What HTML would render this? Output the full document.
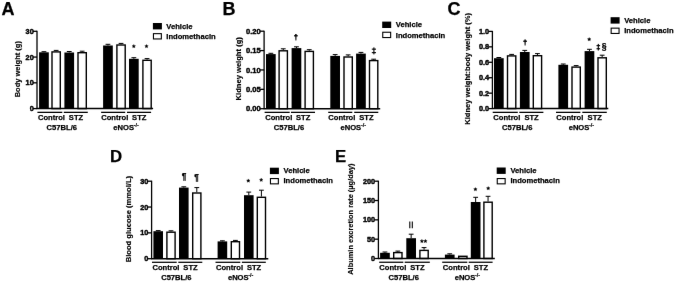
<!DOCTYPE html>
<html><head><meta charset="utf-8"><style>
html,body{margin:0;padding:0;background:#fff;width:675px;height:282px;overflow:hidden}
svg{display:block;font-family:"Liberation Sans", sans-serif;will-change:transform}
text{font-weight:bold;fill:#000;stroke:#000;stroke-width:0.25px;stroke-linejoin:round}
</style></head><body>
<svg width="675" height="282" viewBox="0 0 675 282">
<defs><filter id="bl" color-interpolation-filters="sRGB" x="0" y="0" width="675" height="282" filterUnits="userSpaceOnUse"><feConvolveMatrix order="3" kernelMatrix="0.0016 0.0371 0.0016 0.0371 0.8450 0.0371 0.0016 0.0371 0.0016" edgeMode="duplicate"/></filter></defs><g filter="url(#bl)">
<rect width="675" height="282" fill="#fff"/>
<text x="1.6" y="14.8" font-size="18">A</text>
<line x1="37" y1="30.8" x2="37" y2="108.6" stroke="#000" stroke-width="1.3"/>
<line x1="33" y1="108.6" x2="37" y2="108.6" stroke="#000" stroke-width="1.3"/>
<text x="33.7" y="111.2" font-size="7.74" textLength="4.06" lengthAdjust="spacingAndGlyphs" text-anchor="end" style="stroke-width:0.45px">0</text>
<line x1="33" y1="82.83" x2="37" y2="82.83" stroke="#000" stroke-width="1.3"/>
<text x="33.7" y="85.43" font-size="7.74" textLength="8.12" lengthAdjust="spacingAndGlyphs" text-anchor="end" style="stroke-width:0.45px">10</text>
<line x1="33" y1="57.07" x2="37" y2="57.07" stroke="#000" stroke-width="1.3"/>
<text x="33.7" y="59.67" font-size="7.74" textLength="8.12" lengthAdjust="spacingAndGlyphs" text-anchor="end" style="stroke-width:0.45px">20</text>
<line x1="33" y1="31.3" x2="37" y2="31.3" stroke="#000" stroke-width="1.3"/>
<text x="33.7" y="33.9" font-size="7.74" textLength="8.12" lengthAdjust="spacingAndGlyphs" text-anchor="end" style="stroke-width:0.45px">30</text>
<line x1="43.95" y1="51.7" x2="43.95" y2="52.3" stroke="#000" stroke-width="1"/>
<line x1="41.55" y1="51.7" x2="46.35" y2="51.7" stroke="#000" stroke-width="1"/>
<rect x="39.1" y="52.3" width="9.7" height="56.3" fill="#000"/>
<line x1="56.15" y1="50.4" x2="56.15" y2="51.2" stroke="#000" stroke-width="1"/>
<line x1="53.75" y1="50.4" x2="58.55" y2="50.4" stroke="#000" stroke-width="1"/>
<rect x="52" y="51.9" width="8.3" height="56.7" fill="#fff" stroke="#000" stroke-width="1.4"/>
<line x1="69.25" y1="51.5" x2="69.25" y2="52.5" stroke="#000" stroke-width="1"/>
<line x1="66.85" y1="51.5" x2="71.65" y2="51.5" stroke="#000" stroke-width="1"/>
<rect x="64.4" y="52.5" width="9.7" height="56.1" fill="#000"/>
<line x1="82.15" y1="51.2" x2="82.15" y2="52" stroke="#000" stroke-width="1"/>
<line x1="79.75" y1="51.2" x2="84.55" y2="51.2" stroke="#000" stroke-width="1"/>
<rect x="78" y="52.7" width="8.3" height="55.9" fill="#fff" stroke="#000" stroke-width="1.4"/>
<line x1="107.95" y1="44.3" x2="107.95" y2="45.5" stroke="#000" stroke-width="1"/>
<line x1="105.55" y1="44.3" x2="110.35" y2="44.3" stroke="#000" stroke-width="1"/>
<rect x="103.1" y="45.5" width="9.7" height="63.1" fill="#000"/>
<line x1="121.05" y1="43.4" x2="121.05" y2="44.3" stroke="#000" stroke-width="1"/>
<line x1="118.65" y1="43.4" x2="123.45" y2="43.4" stroke="#000" stroke-width="1"/>
<rect x="116.9" y="45" width="8.3" height="63.6" fill="#fff" stroke="#000" stroke-width="1.4"/>
<line x1="133.85" y1="57.7" x2="133.85" y2="58.8" stroke="#000" stroke-width="1"/>
<line x1="131.45" y1="57.7" x2="136.25" y2="57.7" stroke="#000" stroke-width="1"/>
<rect x="129" y="58.8" width="9.7" height="49.8" fill="#000"/>
<line x1="147.05" y1="58.6" x2="147.05" y2="59.6" stroke="#000" stroke-width="1"/>
<line x1="144.65" y1="58.6" x2="149.45" y2="58.6" stroke="#000" stroke-width="1"/>
<rect x="142.9" y="60.3" width="8.3" height="48.3" fill="#fff" stroke="#000" stroke-width="1.4"/>
<line x1="36.5" y1="108.6" x2="153.1" y2="108.6" stroke="#000" stroke-width="1.5"/>
<line x1="37.4" y1="112.35" x2="62.3" y2="112.35" stroke="#000" stroke-width="1.25"/>
<text x="51.45" y="119.6" font-size="7.9" textLength="27.02" lengthAdjust="spacingAndGlyphs" text-anchor="middle">Control</text>
<line x1="63.8" y1="112.35" x2="87.8" y2="112.35" stroke="#000" stroke-width="1.25"/>
<text x="76" y="119.6" font-size="7.9" textLength="14.35" lengthAdjust="spacingAndGlyphs" text-anchor="middle">STZ</text>
<line x1="101.1" y1="112.35" x2="125.2" y2="112.35" stroke="#000" stroke-width="1.25"/>
<text x="114.75" y="119.6" font-size="7.9" textLength="27.02" lengthAdjust="spacingAndGlyphs" text-anchor="middle">Control</text>
<line x1="127" y1="112.35" x2="151.1" y2="112.35" stroke="#000" stroke-width="1.25"/>
<text x="139.25" y="119.6" font-size="7.9" textLength="14.35" lengthAdjust="spacingAndGlyphs" text-anchor="middle">STZ</text>
<text x="61.8" y="129.6" font-size="7.9" textLength="30.41" lengthAdjust="spacingAndGlyphs" text-anchor="middle">C57BL/6</text>
<text x="126.1" y="129.6" font-size="7.6" text-anchor="middle">eNOS<tspan font-size="5.4" dy="-2.7" dx="-0.3" style="stroke-width:0.15px">-/-</tspan></text>
<rect x="152.9" y="23" width="9" height="6.4" fill="#000"/>
<rect x="153.45" y="33.65" width="7.9" height="5.3" fill="#fff" stroke="#000" stroke-width="1.1"/>
<text x="166.3" y="29" font-size="7.98" textLength="26.2" lengthAdjust="spacingAndGlyphs">Vehicle</text>
<text x="166.3" y="39.2" font-size="7.98" textLength="49.4" lengthAdjust="spacingAndGlyphs">Indomethacin</text>
<text transform="translate(20.4,69.2) rotate(-90)" font-size="7.5" text-anchor="middle" style="stroke-width:0.15px">Body weight (g)</text>
<polygon points="133.8,44.4 134.33,45.52 135.56,45.68 134.66,46.53 134.89,47.75 133.8,47.15 132.71,47.75 132.94,46.53 132.04,45.68 133.27,45.52" fill="#000" stroke="#000" stroke-width="0.3" stroke-linejoin="round"/>
<polygon points="146.5,44.4 147.03,45.52 148.26,45.68 147.36,46.53 147.59,47.75 146.5,47.15 145.41,47.75 145.64,46.53 144.74,45.68 145.97,45.52" fill="#000" stroke="#000" stroke-width="0.3" stroke-linejoin="round"/>
<text x="222.6" y="14.8" font-size="18">B</text>
<line x1="264.1" y1="30.7" x2="264.1" y2="108.7" stroke="#000" stroke-width="1.3"/>
<line x1="260.1" y1="108.7" x2="264.1" y2="108.7" stroke="#000" stroke-width="1.3"/>
<text x="260.8" y="111.3" font-size="8.06" textLength="14.79" lengthAdjust="spacingAndGlyphs" text-anchor="end" style="stroke-width:0.45px">0.00</text>
<line x1="260.1" y1="89.33" x2="264.1" y2="89.33" stroke="#000" stroke-width="1.3"/>
<text x="260.8" y="91.92" font-size="8.06" textLength="14.79" lengthAdjust="spacingAndGlyphs" text-anchor="end" style="stroke-width:0.45px">0.05</text>
<line x1="260.1" y1="69.95" x2="264.1" y2="69.95" stroke="#000" stroke-width="1.3"/>
<text x="260.8" y="72.55" font-size="8.06" textLength="14.79" lengthAdjust="spacingAndGlyphs" text-anchor="end" style="stroke-width:0.45px">0.10</text>
<line x1="260.1" y1="50.58" x2="264.1" y2="50.58" stroke="#000" stroke-width="1.3"/>
<text x="260.8" y="53.18" font-size="8.06" textLength="14.79" lengthAdjust="spacingAndGlyphs" text-anchor="end" style="stroke-width:0.45px">0.15</text>
<line x1="260.1" y1="31.2" x2="264.1" y2="31.2" stroke="#000" stroke-width="1.3"/>
<text x="260.8" y="33.8" font-size="8.06" textLength="14.79" lengthAdjust="spacingAndGlyphs" text-anchor="end" style="stroke-width:0.45px">0.20</text>
<line x1="270.85" y1="53.3" x2="270.85" y2="54.1" stroke="#000" stroke-width="1"/>
<line x1="268.45" y1="53.3" x2="273.25" y2="53.3" stroke="#000" stroke-width="1"/>
<rect x="266" y="54.1" width="9.7" height="54.6" fill="#000"/>
<line x1="283.25" y1="48.8" x2="283.25" y2="50.1" stroke="#000" stroke-width="1"/>
<line x1="280.85" y1="48.8" x2="285.65" y2="48.8" stroke="#000" stroke-width="1"/>
<rect x="279.1" y="50.8" width="8.3" height="57.9" fill="#fff" stroke="#000" stroke-width="1.4"/>
<line x1="296.45" y1="46.8" x2="296.45" y2="48.1" stroke="#000" stroke-width="1"/>
<line x1="294.05" y1="46.8" x2="298.85" y2="46.8" stroke="#000" stroke-width="1"/>
<rect x="291.6" y="48.1" width="9.7" height="60.6" fill="#000"/>
<line x1="309.25" y1="49.7" x2="309.25" y2="50.7" stroke="#000" stroke-width="1"/>
<line x1="306.85" y1="49.7" x2="311.65" y2="49.7" stroke="#000" stroke-width="1"/>
<rect x="305.1" y="51.4" width="8.3" height="57.3" fill="#fff" stroke="#000" stroke-width="1.4"/>
<line x1="335.15" y1="54.6" x2="335.15" y2="55.9" stroke="#000" stroke-width="1"/>
<line x1="332.75" y1="54.6" x2="337.55" y2="54.6" stroke="#000" stroke-width="1"/>
<rect x="330.3" y="55.9" width="9.7" height="52.8" fill="#000"/>
<line x1="348.15" y1="54.9" x2="348.15" y2="56.3" stroke="#000" stroke-width="1"/>
<line x1="345.75" y1="54.9" x2="350.55" y2="54.9" stroke="#000" stroke-width="1"/>
<rect x="344" y="57" width="8.3" height="51.7" fill="#fff" stroke="#000" stroke-width="1.4"/>
<line x1="360.95" y1="52.4" x2="360.95" y2="53.6" stroke="#000" stroke-width="1"/>
<line x1="358.55" y1="52.4" x2="363.35" y2="52.4" stroke="#000" stroke-width="1"/>
<rect x="356.1" y="53.6" width="9.7" height="55.1" fill="#000"/>
<line x1="373.65" y1="59.2" x2="373.65" y2="59.9" stroke="#000" stroke-width="1"/>
<line x1="371.25" y1="59.2" x2="376.05" y2="59.2" stroke="#000" stroke-width="1"/>
<rect x="369.5" y="60.6" width="8.3" height="48.1" fill="#fff" stroke="#000" stroke-width="1.4"/>
<line x1="263.6" y1="108.7" x2="380.2" y2="108.7" stroke="#000" stroke-width="1.5"/>
<line x1="264.6" y1="112.35" x2="289.7" y2="112.35" stroke="#000" stroke-width="1.25"/>
<text x="278.75" y="119.8" font-size="7.9" textLength="27.02" lengthAdjust="spacingAndGlyphs" text-anchor="middle">Control</text>
<line x1="291" y1="112.35" x2="315" y2="112.35" stroke="#000" stroke-width="1.25"/>
<text x="303.2" y="119.8" font-size="7.9" textLength="14.35" lengthAdjust="spacingAndGlyphs" text-anchor="middle">STZ</text>
<line x1="328.2" y1="112.35" x2="352.3" y2="112.35" stroke="#000" stroke-width="1.25"/>
<text x="341.85" y="119.8" font-size="7.9" textLength="27.02" lengthAdjust="spacingAndGlyphs" text-anchor="middle">Control</text>
<line x1="354.2" y1="112.35" x2="378.3" y2="112.35" stroke="#000" stroke-width="1.25"/>
<text x="366.45" y="119.8" font-size="7.9" textLength="14.35" lengthAdjust="spacingAndGlyphs" text-anchor="middle">STZ</text>
<text x="289" y="129.6" font-size="7.9" textLength="30.41" lengthAdjust="spacingAndGlyphs" text-anchor="middle">C57BL/6</text>
<text x="353.25" y="129.6" font-size="7.6" text-anchor="middle">eNOS<tspan font-size="5.4" dy="-2.7" dx="-0.3" style="stroke-width:0.15px">-/-</tspan></text>
<rect x="382.2" y="21.6" width="9" height="6.4" fill="#000"/>
<rect x="382.75" y="32.25" width="7.9" height="5.3" fill="#fff" stroke="#000" stroke-width="1.1"/>
<text x="395.8" y="27.2" font-size="7.98" textLength="26.2" lengthAdjust="spacingAndGlyphs">Vehicle</text>
<text x="395.8" y="38" font-size="7.98" textLength="49.4" lengthAdjust="spacingAndGlyphs">Indomethacin</text>
<text transform="translate(240.8,68.8) rotate(-90)" font-size="7.6" text-anchor="middle" style="stroke-width:0.15px">Kidney weight (g)</text>
<polygon points="295.15,34.1 296.65,34.1 296.35,40.4 295.45,40.4" fill="#000"/>
<rect x="294" y="35.2" width="3.8" height="1.2" fill="#000"/>
<rect x="373.35" y="47.4" width="1.1" height="7" fill="#000"/>
<rect x="371.8" y="48.6" width="4.2" height="1.1" fill="#000"/>
<rect x="371.8" y="52.1" width="4.2" height="1.1" fill="#000"/>
<text x="447.6" y="14.8" font-size="18">C</text>
<line x1="492.4" y1="30.9" x2="492.4" y2="108.6" stroke="#000" stroke-width="1.3"/>
<line x1="488.4" y1="108.6" x2="492.4" y2="108.6" stroke="#000" stroke-width="1.3"/>
<text x="489.1" y="111.2" font-size="7.74" textLength="10.15" lengthAdjust="spacingAndGlyphs" text-anchor="end" style="stroke-width:0.45px">0.0</text>
<line x1="488.4" y1="93.16" x2="492.4" y2="93.16" stroke="#000" stroke-width="1.3"/>
<text x="489.1" y="95.76" font-size="7.74" textLength="10.15" lengthAdjust="spacingAndGlyphs" text-anchor="end" style="stroke-width:0.45px">0.2</text>
<line x1="488.4" y1="77.72" x2="492.4" y2="77.72" stroke="#000" stroke-width="1.3"/>
<text x="489.1" y="80.32" font-size="7.74" textLength="10.15" lengthAdjust="spacingAndGlyphs" text-anchor="end" style="stroke-width:0.45px">0.4</text>
<line x1="488.4" y1="62.28" x2="492.4" y2="62.28" stroke="#000" stroke-width="1.3"/>
<text x="489.1" y="64.88" font-size="7.74" textLength="10.15" lengthAdjust="spacingAndGlyphs" text-anchor="end" style="stroke-width:0.45px">0.6</text>
<line x1="488.4" y1="46.84" x2="492.4" y2="46.84" stroke="#000" stroke-width="1.3"/>
<text x="489.1" y="49.44" font-size="7.74" textLength="10.15" lengthAdjust="spacingAndGlyphs" text-anchor="end" style="stroke-width:0.45px">0.8</text>
<line x1="488.4" y1="31.4" x2="492.4" y2="31.4" stroke="#000" stroke-width="1.3"/>
<text x="489.1" y="34" font-size="7.74" textLength="10.15" lengthAdjust="spacingAndGlyphs" text-anchor="end" style="stroke-width:0.45px">1.0</text>
<line x1="498.85" y1="57.5" x2="498.85" y2="58.2" stroke="#000" stroke-width="1"/>
<line x1="496.45" y1="57.5" x2="501.25" y2="57.5" stroke="#000" stroke-width="1"/>
<rect x="494" y="58.2" width="9.7" height="50.4" fill="#000"/>
<line x1="511.65" y1="54.4" x2="511.65" y2="55.2" stroke="#000" stroke-width="1"/>
<line x1="509.25" y1="54.4" x2="514.05" y2="54.4" stroke="#000" stroke-width="1"/>
<rect x="507.5" y="55.9" width="8.3" height="52.7" fill="#fff" stroke="#000" stroke-width="1.4"/>
<line x1="524.75" y1="50.4" x2="524.75" y2="52" stroke="#000" stroke-width="1"/>
<line x1="522.35" y1="50.4" x2="527.15" y2="50.4" stroke="#000" stroke-width="1"/>
<rect x="519.9" y="52" width="9.7" height="56.6" fill="#000"/>
<line x1="537.45" y1="53.6" x2="537.45" y2="55" stroke="#000" stroke-width="1"/>
<line x1="535.05" y1="53.6" x2="539.85" y2="53.6" stroke="#000" stroke-width="1"/>
<rect x="533.3" y="55.7" width="8.3" height="52.9" fill="#fff" stroke="#000" stroke-width="1.4"/>
<line x1="563.25" y1="64" x2="563.25" y2="64.8" stroke="#000" stroke-width="1"/>
<line x1="560.85" y1="64" x2="565.65" y2="64" stroke="#000" stroke-width="1"/>
<rect x="558.4" y="64.8" width="9.7" height="43.8" fill="#000"/>
<line x1="576.15" y1="65.6" x2="576.15" y2="66.4" stroke="#000" stroke-width="1"/>
<line x1="573.75" y1="65.6" x2="578.55" y2="65.6" stroke="#000" stroke-width="1"/>
<rect x="572" y="67.1" width="8.3" height="41.5" fill="#fff" stroke="#000" stroke-width="1.4"/>
<line x1="589.45" y1="49.3" x2="589.45" y2="51.1" stroke="#000" stroke-width="1"/>
<line x1="587.05" y1="49.3" x2="591.85" y2="49.3" stroke="#000" stroke-width="1"/>
<rect x="584.6" y="51.1" width="9.7" height="57.5" fill="#000"/>
<line x1="602.15" y1="55.2" x2="602.15" y2="57.1" stroke="#000" stroke-width="1"/>
<line x1="599.75" y1="55.2" x2="604.55" y2="55.2" stroke="#000" stroke-width="1"/>
<rect x="598" y="57.8" width="8.3" height="50.8" fill="#fff" stroke="#000" stroke-width="1.4"/>
<line x1="491.9" y1="108.6" x2="608.3" y2="108.6" stroke="#000" stroke-width="1.5"/>
<line x1="492.7" y1="112.35" x2="517.8" y2="112.35" stroke="#000" stroke-width="1.25"/>
<text x="506.85" y="119.8" font-size="7.9" textLength="27.02" lengthAdjust="spacingAndGlyphs" text-anchor="middle">Control</text>
<line x1="519.3" y1="112.35" x2="543.4" y2="112.35" stroke="#000" stroke-width="1.25"/>
<text x="531.55" y="119.8" font-size="7.9" textLength="14.35" lengthAdjust="spacingAndGlyphs" text-anchor="middle">STZ</text>
<line x1="556" y1="112.35" x2="580.4" y2="112.35" stroke="#000" stroke-width="1.25"/>
<text x="569.8" y="119.8" font-size="7.9" textLength="27.02" lengthAdjust="spacingAndGlyphs" text-anchor="middle">Control</text>
<line x1="582.3" y1="112.35" x2="606.8" y2="112.35" stroke="#000" stroke-width="1.25"/>
<text x="594.75" y="119.8" font-size="7.9" textLength="14.35" lengthAdjust="spacingAndGlyphs" text-anchor="middle">STZ</text>
<text x="517.25" y="129.6" font-size="7.9" textLength="30.41" lengthAdjust="spacingAndGlyphs" text-anchor="middle">C57BL/6</text>
<text x="581.4" y="129.6" font-size="7.6" text-anchor="middle">eNOS<tspan font-size="5.4" dy="-2.7" dx="-0.3" style="stroke-width:0.15px">-/-</tspan></text>
<rect x="610.6" y="17.2" width="9" height="6.4" fill="#000"/>
<rect x="611.15" y="28.15" width="7.9" height="5.3" fill="#fff" stroke="#000" stroke-width="1.1"/>
<text x="624.2" y="22.9" font-size="7.98" textLength="26.2" lengthAdjust="spacingAndGlyphs">Vehicle</text>
<text x="624.2" y="33.1" font-size="7.98" textLength="49.4" lengthAdjust="spacingAndGlyphs">Indomethacin</text>
<text transform="translate(469.8,68.85) rotate(-90)" font-size="7.57" text-anchor="middle" style="stroke-width:0.15px">Kidney weight:body weight (%)</text>
<polygon points="524.35,39.5 525.85,39.5 525.55,45.4 524.65,45.4" fill="#000"/>
<rect x="523.2" y="40.6" width="3.8" height="1.2" fill="#000"/>
<polygon points="589.2,37.5 589.73,38.62 590.96,38.78 590.06,39.63 590.29,40.85 589.2,40.25 588.11,40.85 588.34,39.63 587.44,38.78 588.67,38.62" fill="#000" stroke="#000" stroke-width="0.3" stroke-linejoin="round"/>
<rect x="597.75" y="43.9" width="1.1" height="6.6" fill="#000"/>
<rect x="596.5" y="45.1" width="3.6" height="1.1" fill="#000"/>
<rect x="596.5" y="48.2" width="3.6" height="1.1" fill="#000"/>
<text x="604.2" y="49.4" font-size="8.6" text-anchor="middle">§</text>
<text x="109.9" y="162.2" font-size="16.8">D</text>
<line x1="151.6" y1="180.7" x2="151.6" y2="258.7" stroke="#000" stroke-width="1.3"/>
<line x1="147.6" y1="258.7" x2="151.6" y2="258.7" stroke="#000" stroke-width="1.3"/>
<text x="148.3" y="261.3" font-size="7.74" textLength="4.06" lengthAdjust="spacingAndGlyphs" text-anchor="end" style="stroke-width:0.45px">0</text>
<line x1="147.6" y1="232.87" x2="151.6" y2="232.87" stroke="#000" stroke-width="1.3"/>
<text x="148.3" y="235.47" font-size="7.74" textLength="8.12" lengthAdjust="spacingAndGlyphs" text-anchor="end" style="stroke-width:0.45px">10</text>
<line x1="147.6" y1="207.03" x2="151.6" y2="207.03" stroke="#000" stroke-width="1.3"/>
<text x="148.3" y="209.63" font-size="7.74" textLength="8.12" lengthAdjust="spacingAndGlyphs" text-anchor="end" style="stroke-width:0.45px">20</text>
<line x1="147.6" y1="181.2" x2="151.6" y2="181.2" stroke="#000" stroke-width="1.3"/>
<text x="148.3" y="183.8" font-size="7.74" textLength="8.12" lengthAdjust="spacingAndGlyphs" text-anchor="end" style="stroke-width:0.45px">30</text>
<line x1="158.2" y1="230.6" x2="158.2" y2="231.2" stroke="#000" stroke-width="1"/>
<line x1="155.8" y1="230.6" x2="160.6" y2="230.6" stroke="#000" stroke-width="1"/>
<rect x="153.4" y="231.2" width="9.6" height="27.5" fill="#000"/>
<line x1="171" y1="230.8" x2="171" y2="231.5" stroke="#000" stroke-width="1"/>
<line x1="168.6" y1="230.8" x2="173.4" y2="230.8" stroke="#000" stroke-width="1"/>
<rect x="166.9" y="232.2" width="8.2" height="26.5" fill="#fff" stroke="#000" stroke-width="1.4"/>
<line x1="183.8" y1="186.8" x2="183.8" y2="187.6" stroke="#000" stroke-width="1"/>
<line x1="181.4" y1="186.8" x2="186.2" y2="186.8" stroke="#000" stroke-width="1"/>
<rect x="179" y="187.6" width="9.6" height="71.1" fill="#000"/>
<line x1="196.8" y1="187.6" x2="196.8" y2="192.3" stroke="#000" stroke-width="1"/>
<line x1="194.4" y1="187.6" x2="199.2" y2="187.6" stroke="#000" stroke-width="1"/>
<rect x="192.7" y="193" width="8.2" height="65.7" fill="#fff" stroke="#000" stroke-width="1.4"/>
<line x1="222.4" y1="240.8" x2="222.4" y2="241.4" stroke="#000" stroke-width="1"/>
<line x1="220" y1="240.8" x2="224.8" y2="240.8" stroke="#000" stroke-width="1"/>
<rect x="217.6" y="241.4" width="9.6" height="17.3" fill="#000"/>
<line x1="235.4" y1="240.4" x2="235.4" y2="241" stroke="#000" stroke-width="1"/>
<line x1="233" y1="240.4" x2="237.8" y2="240.4" stroke="#000" stroke-width="1"/>
<rect x="231.3" y="241.7" width="8.2" height="17" fill="#fff" stroke="#000" stroke-width="1.4"/>
<line x1="248.8" y1="192.1" x2="248.8" y2="195.2" stroke="#000" stroke-width="1"/>
<line x1="246.4" y1="192.1" x2="251.2" y2="192.1" stroke="#000" stroke-width="1"/>
<rect x="244" y="195.2" width="9.6" height="63.5" fill="#000"/>
<line x1="261.4" y1="190.2" x2="261.4" y2="196.6" stroke="#000" stroke-width="1"/>
<line x1="259" y1="190.2" x2="263.8" y2="190.2" stroke="#000" stroke-width="1"/>
<rect x="257.3" y="197.3" width="8.2" height="61.4" fill="#fff" stroke="#000" stroke-width="1.4"/>
<line x1="151.1" y1="258.7" x2="268.3" y2="258.7" stroke="#000" stroke-width="1.5"/>
<line x1="152" y1="262.3" x2="176.7" y2="262.3" stroke="#000" stroke-width="1.25"/>
<text x="165.95" y="269.9" font-size="7.9" textLength="27.02" lengthAdjust="spacingAndGlyphs" text-anchor="middle">Control</text>
<line x1="178.3" y1="262.3" x2="202.3" y2="262.3" stroke="#000" stroke-width="1.25"/>
<text x="190.5" y="269.9" font-size="7.9" textLength="14.35" lengthAdjust="spacingAndGlyphs" text-anchor="middle">STZ</text>
<line x1="215.5" y1="262.3" x2="240.3" y2="262.3" stroke="#000" stroke-width="1.25"/>
<text x="229.5" y="269.9" font-size="7.9" textLength="27.02" lengthAdjust="spacingAndGlyphs" text-anchor="middle">Control</text>
<line x1="241.9" y1="262.3" x2="265.8" y2="262.3" stroke="#000" stroke-width="1.25"/>
<text x="254.05" y="269.9" font-size="7.9" textLength="14.35" lengthAdjust="spacingAndGlyphs" text-anchor="middle">STZ</text>
<text x="176.35" y="279.6" font-size="7.9" textLength="30.41" lengthAdjust="spacingAndGlyphs" text-anchor="middle">C57BL/6</text>
<text x="240.65" y="279.6" font-size="7.6" text-anchor="middle">eNOS<tspan font-size="5.4" dy="-2.7" dx="-0.3" style="stroke-width:0.15px">-/-</tspan></text>
<rect x="269.9" y="167.7" width="9" height="6.4" fill="#000"/>
<rect x="270.45" y="178.55" width="7.9" height="5.3" fill="#fff" stroke="#000" stroke-width="1.1"/>
<text x="283.5" y="173.4" font-size="7.98" textLength="26.2" lengthAdjust="spacingAndGlyphs">Vehicle</text>
<text x="283.5" y="183.3" font-size="7.98" textLength="49.4" lengthAdjust="spacingAndGlyphs">Indomethacin</text>
<text transform="translate(130.6,219.1) rotate(-90)" font-size="7.6" text-anchor="middle" style="stroke-width:0.15px">Blood glucose (mmol/L)</text>
<text x="184" y="179.2" font-size="8.2" text-anchor="middle">¶</text>
<text x="196.6" y="180.4" font-size="8.2" text-anchor="middle">¶</text>
<polygon points="248.3,178.9 248.83,180.02 250.06,180.18 249.16,181.03 249.39,182.25 248.3,181.65 247.21,182.25 247.44,181.03 246.54,180.18 247.77,180.02" fill="#000" stroke="#000" stroke-width="0.3" stroke-linejoin="round"/>
<polygon points="261.2,178.1 261.73,179.22 262.96,179.38 262.06,180.23 262.29,181.45 261.2,180.85 260.11,181.45 260.34,180.23 259.44,179.38 260.67,179.22" fill="#000" stroke="#000" stroke-width="0.3" stroke-linejoin="round"/>
<text x="334.9" y="162.2" font-size="16.8">E</text>
<line x1="378.4" y1="180.7" x2="378.4" y2="258.5" stroke="#000" stroke-width="1.3"/>
<line x1="374.4" y1="258.5" x2="378.4" y2="258.5" stroke="#000" stroke-width="1.3"/>
<text x="375.1" y="261.1" font-size="7.74" textLength="4.06" lengthAdjust="spacingAndGlyphs" text-anchor="end" style="stroke-width:0.45px">0</text>
<line x1="374.4" y1="239.18" x2="378.4" y2="239.18" stroke="#000" stroke-width="1.3"/>
<text x="375.1" y="241.78" font-size="7.74" textLength="8.12" lengthAdjust="spacingAndGlyphs" text-anchor="end" style="stroke-width:0.45px">50</text>
<line x1="374.4" y1="219.85" x2="378.4" y2="219.85" stroke="#000" stroke-width="1.3"/>
<text x="375.1" y="222.45" font-size="7.74" textLength="12.18" lengthAdjust="spacingAndGlyphs" text-anchor="end" style="stroke-width:0.45px">100</text>
<line x1="374.4" y1="200.52" x2="378.4" y2="200.52" stroke="#000" stroke-width="1.3"/>
<text x="375.1" y="203.12" font-size="7.74" textLength="12.18" lengthAdjust="spacingAndGlyphs" text-anchor="end" style="stroke-width:0.45px">150</text>
<line x1="374.4" y1="181.2" x2="378.4" y2="181.2" stroke="#000" stroke-width="1.3"/>
<text x="375.1" y="183.8" font-size="7.74" textLength="12.18" lengthAdjust="spacingAndGlyphs" text-anchor="end" style="stroke-width:0.45px">200</text>
<line x1="384.95" y1="252" x2="384.95" y2="252.8" stroke="#000" stroke-width="1"/>
<line x1="382.55" y1="252" x2="387.35" y2="252" stroke="#000" stroke-width="1"/>
<rect x="380.1" y="252.8" width="9.7" height="5.7" fill="#000"/>
<line x1="397.85" y1="251.1" x2="397.85" y2="251.9" stroke="#000" stroke-width="1"/>
<line x1="395.45" y1="251.1" x2="400.25" y2="251.1" stroke="#000" stroke-width="1"/>
<rect x="393.7" y="252.6" width="8.3" height="5.9" fill="#fff" stroke="#000" stroke-width="1.4"/>
<line x1="411.15" y1="234.2" x2="411.15" y2="238.2" stroke="#000" stroke-width="1"/>
<line x1="408.75" y1="234.2" x2="413.55" y2="234.2" stroke="#000" stroke-width="1"/>
<rect x="406.3" y="238.2" width="9.7" height="20.3" fill="#000"/>
<line x1="424.05" y1="247.6" x2="424.05" y2="249.7" stroke="#000" stroke-width="1"/>
<line x1="421.65" y1="247.6" x2="426.45" y2="247.6" stroke="#000" stroke-width="1"/>
<rect x="419.9" y="250.4" width="8.3" height="8.1" fill="#fff" stroke="#000" stroke-width="1.4"/>
<line x1="449.75" y1="253.8" x2="449.75" y2="254.6" stroke="#000" stroke-width="1"/>
<line x1="447.35" y1="253.8" x2="452.15" y2="253.8" stroke="#000" stroke-width="1"/>
<rect x="444.9" y="254.6" width="9.7" height="3.9" fill="#000"/>
<rect x="458.7" y="256.3" width="8.3" height="2.2" fill="#fff" stroke="#000" stroke-width="1.4"/>
<line x1="475.65" y1="197.3" x2="475.65" y2="202" stroke="#000" stroke-width="1"/>
<line x1="473.25" y1="197.3" x2="478.05" y2="197.3" stroke="#000" stroke-width="1"/>
<rect x="470.8" y="202" width="9.7" height="56.5" fill="#000"/>
<line x1="488.05" y1="196.3" x2="488.05" y2="201.5" stroke="#000" stroke-width="1"/>
<line x1="485.65" y1="196.3" x2="490.45" y2="196.3" stroke="#000" stroke-width="1"/>
<rect x="483.9" y="202.2" width="8.3" height="56.3" fill="#fff" stroke="#000" stroke-width="1.4"/>
<line x1="377.9" y1="258.5" x2="494.8" y2="258.5" stroke="#000" stroke-width="1.5"/>
<line x1="379.2" y1="262.25" x2="403.3" y2="262.25" stroke="#000" stroke-width="1.25"/>
<text x="392.85" y="269.6" font-size="7.9" textLength="27.02" lengthAdjust="spacingAndGlyphs" text-anchor="middle">Control</text>
<line x1="404.7" y1="262.25" x2="429.8" y2="262.25" stroke="#000" stroke-width="1.25"/>
<text x="417.45" y="269.6" font-size="7.9" textLength="14.35" lengthAdjust="spacingAndGlyphs" text-anchor="middle">STZ</text>
<line x1="442.2" y1="262.25" x2="467.3" y2="262.25" stroke="#000" stroke-width="1.25"/>
<text x="456.35" y="269.6" font-size="7.9" textLength="27.02" lengthAdjust="spacingAndGlyphs" text-anchor="middle">Control</text>
<line x1="468.7" y1="262.25" x2="492.6" y2="262.25" stroke="#000" stroke-width="1.25"/>
<text x="480.85" y="269.6" font-size="7.9" textLength="14.35" lengthAdjust="spacingAndGlyphs" text-anchor="middle">STZ</text>
<text x="403.7" y="279.5" font-size="7.9" textLength="30.41" lengthAdjust="spacingAndGlyphs" text-anchor="middle">C57BL/6</text>
<text x="467.4" y="279.5" font-size="7.6" text-anchor="middle">eNOS<tspan font-size="5.4" dy="-2.7" dx="-0.3" style="stroke-width:0.15px">-/-</tspan></text>
<rect x="496.7" y="167.5" width="9" height="6.4" fill="#000"/>
<rect x="497.25" y="178.55" width="7.9" height="5.3" fill="#fff" stroke="#000" stroke-width="1.1"/>
<text x="510.4" y="173.4" font-size="7.98" textLength="26.2" lengthAdjust="spacingAndGlyphs">Vehicle</text>
<text x="510.4" y="183.3" font-size="7.98" textLength="49.4" lengthAdjust="spacingAndGlyphs">Indomethacin</text>
<text transform="translate(352.9,219.15) rotate(-90)" font-size="7.45" text-anchor="middle" style="stroke-width:0.15px">Albumin excretion rate (µg/day)</text>
<line x1="409.8" y1="221.6" x2="409.8" y2="228.3" stroke="#000" stroke-width="1.1"/>
<line x1="412.3" y1="221.6" x2="412.3" y2="228.3" stroke="#000" stroke-width="1.1"/>
<polygon points="421.9,239.3 422.43,240.42 423.66,240.58 422.76,241.43 422.99,242.65 421.9,242.05 420.81,242.65 421.04,241.43 420.14,240.58 421.37,240.42" fill="#000" stroke="#000" stroke-width="0.3" stroke-linejoin="round"/>
<polygon points="425.4,239.3 425.93,240.42 427.16,240.58 426.26,241.43 426.49,242.65 425.4,242.05 424.31,242.65 424.54,241.43 423.64,240.58 424.87,240.42" fill="#000" stroke="#000" stroke-width="0.3" stroke-linejoin="round"/>
<polygon points="475.4,187.5 475.93,188.62 477.16,188.78 476.26,189.63 476.49,190.85 475.4,190.25 474.31,190.85 474.54,189.63 473.64,188.78 474.87,188.62" fill="#000" stroke="#000" stroke-width="0.3" stroke-linejoin="round"/>
<polygon points="488.2,186.5 488.73,187.62 489.96,187.78 489.06,188.63 489.29,189.85 488.2,189.25 487.11,189.85 487.34,188.63 486.44,187.78 487.67,187.62" fill="#000" stroke="#000" stroke-width="0.3" stroke-linejoin="round"/>
</g>
</svg>
</body></html>
